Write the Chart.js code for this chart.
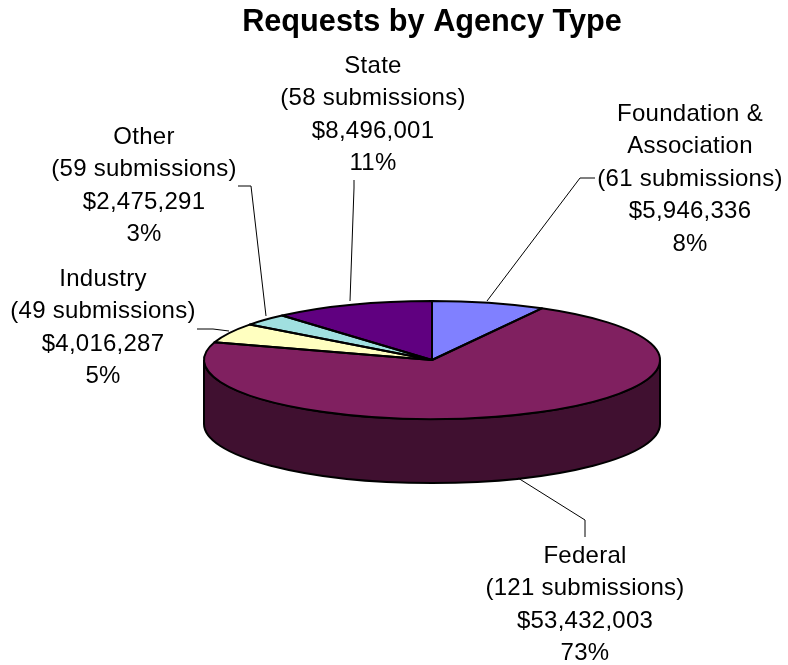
<!DOCTYPE html>
<html>
<head>
<meta charset="utf-8">
<style>html,body{margin:0;padding:0;background:#fff}canvas{display:block}</style>
<script src="https://cdn.jsdelivr.net/npm/chart.js@4"></script>
</head>
<body>
<canvas id="c" width="788" height="665"></canvas>
<script>
const categories = ['Foundation &\nAssociation', 'Federal', 'Industry', 'Other', 'State'];
const submissions = [61, 121, 49, 59, 58];
const amounts = [5946336, 53432003, 4016287, 2475291, 8496001];
const percents = ['8%', '73%', '5%', '3%', '11%'];
const colors = ['#8080ff', '#802060', '#ffffc0', '#a0e0e0', '#600080'];
const sideColors = ['#404080', '#401030', '#808060', '#507070', '#300040'];

const FONT = '24px "Liberation Sans", Arial, sans-serif';
const LINE = 32.5, SQUASH = 59 / 228, DEPTH = 64;
const labelCentre = [690, 585, 103, 144, 373];
const labelTop = [114, 556, 279, 137, 66];
const leaders = [
  [[487, 301], [580, 178], [595, 178]],
  [[518, 478], [585, 520], [585, 537]],
  [[229, 331], [213, 329], [197, 329]],
  [[266, 316], [251, 186], [238, 186]],
  [[350, 301], [354, 188], [354, 180]]
];

function squash(ctx, el) {
  ctx.translate(el.x, el.y);
  ctx.scale(1, SQUASH);
  ctx.translate(-el.x, -el.y);
}

const pie3d = {
  id: 'pie3d',
  beforeDatasetsDraw(chart) {
    const ctx = chart.ctx;
    chart.getDatasetMeta(0).data.forEach((el, i) => {
      // wall: only the part of each slice facing the viewer (canvas angles 0..PI)
      for (const shift of [0, Math.PI * 2]) {
        const a = Math.max(el.startAngle, shift);
        const b = Math.min(el.endAngle, shift + Math.PI);
        if (b <= a) continue;
        ctx.save();
        ctx.beginPath();
        ctx.save(); squash(ctx, el);
        ctx.arc(el.x, el.y, el.outerRadius, a, b);
        ctx.restore();
        ctx.save(); ctx.translate(0, DEPTH); squash(ctx, el);
        ctx.arc(el.x, el.y, el.outerRadius, b, a, true);
        ctx.restore();
        ctx.closePath();
        ctx.fillStyle = sideColors[i];
        ctx.fill();
        ctx.lineWidth = 2;
        ctx.strokeStyle = '#000';
        ctx.stroke();
        ctx.restore();
      }
    });
  },
  beforeDatasetDraw(chart) {
    const el = chart.getDatasetMeta(0).data[0];
    chart.ctx.save();
    squash(chart.ctx, el);
  },
  afterDatasetDraw(chart) {
    chart.ctx.restore();
    const ctx = chart.ctx;
    chart.getDatasetMeta(0).data.forEach(el => {
      ctx.save();
      ctx.beginPath();
      ctx.save(); squash(ctx, el);
      ctx.moveTo(el.x, el.y);
      ctx.arc(el.x, el.y, el.outerRadius, el.startAngle, el.endAngle);
      ctx.closePath();
      ctx.restore();
      ctx.lineWidth = 2;
      ctx.lineJoin = 'round';
      ctx.strokeStyle = '#000';
      ctx.stroke();
      ctx.restore();
    });
  },
  afterDraw(chart) {
    const ctx = chart.ctx;
    ctx.save();
    ctx.strokeStyle = '#000';
    ctx.lineWidth = 1;
    leaders.forEach(pts => {
      ctx.beginPath();
      pts.forEach((p, k) => k ? ctx.lineTo(p[0], p[1]) : ctx.moveTo(p[0], p[1]));
      ctx.stroke();
    });
    ctx.fillStyle = '#000';
    ctx.font = FONT;
    ctx.letterSpacing = '0.25px';
    ctx.textAlign = 'center';
    ctx.textBaseline = 'middle';
    categories.forEach((name, i) => {
      const lines = name.split('\n').concat(
        '(' + submissions[i] + ' submissions)',
        '$' + amounts[i].toLocaleString('en-US'),
        percents[i]);
      lines.forEach((t, k) => ctx.fillText(t, labelCentre[i], labelTop[i] + k * LINE));
    });
    ctx.restore();
  }
};

new Chart(document.getElementById('c'), {
  type: 'pie',
  data: {
    labels: categories,
    datasets: [{ data: amounts, backgroundColor: colors, borderWidth: 0 }]
  },
  options: {
    responsive: false,
    animation: false,
    radius: 228,
    layout: { padding: { left: 76 } },
    events: [],
    plugins: {
      legend: { display: false },
      tooltip: { enabled: false },
      title: {
        display: true,
        text: 'Requests by Agency Type',
        color: '#000',
        font: { family: '"Liberation Sans", Arial, sans-serif', size: 30.7, weight: 'bold', lineHeight: 1.2 },
        padding: { top: 4.6, bottom: 13.6 }
      }
    }
  },
  plugins: [pie3d]
});
</script>
</body>
</html>
